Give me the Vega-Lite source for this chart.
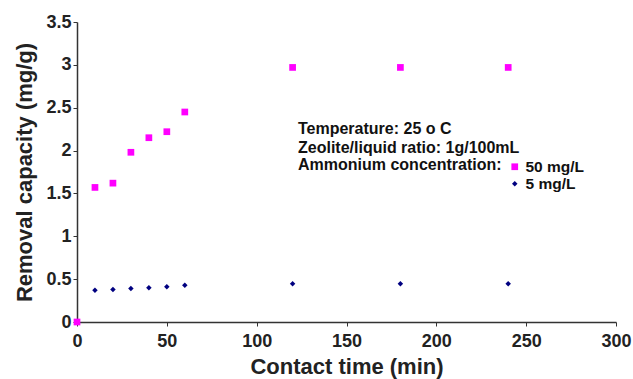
{
  "$schema": "https://vega.github.io/schema/vega-lite/v6.json",
  "width": 539,
  "height": 300,
  "autosize": "none",
  "padding": {"left": 77, "top": 22, "right": 17, "bottom": 57},
  "background": "white",
  "config": {
    "view": {"stroke": null},
    "font": "Liberation Sans",
    "axis": {"grid": false, "domainColor": "#333", "tickColor": "#333", "labelColor": "#222", "titleColor": "#222", "labelFont": "Liberation Sans", "titleFont": "Liberation Sans", "labelFontWeight": "bold", "titleFontWeight": "bold", "labelFontSize": 18, "titleFontSize": 22, "tickSize": 4, "domainWidth": 1.5, "labelFlush": false}
  },
  "datasets": {
    "pts": [
      {"time": 0, "capacity": 0.0, "series": "5 mg/L"},
      {"time": 10, "capacity": 0.37, "series": "5 mg/L"},
      {"time": 20, "capacity": 0.38, "series": "5 mg/L"},
      {"time": 30, "capacity": 0.39, "series": "5 mg/L"},
      {"time": 40, "capacity": 0.40, "series": "5 mg/L"},
      {"time": 50, "capacity": 0.41, "series": "5 mg/L"},
      {"time": 60, "capacity": 0.43, "series": "5 mg/L"},
      {"time": 120, "capacity": 0.445, "series": "5 mg/L"},
      {"time": 180, "capacity": 0.445, "series": "5 mg/L"},
      {"time": 240, "capacity": 0.445, "series": "5 mg/L"},
      {"time": 0, "capacity": 0.0, "series": "50 mg/L"},
      {"time": 10, "capacity": 1.57, "series": "50 mg/L"},
      {"time": 20, "capacity": 1.62, "series": "50 mg/L"},
      {"time": 30, "capacity": 1.98, "series": "50 mg/L"},
      {"time": 40, "capacity": 2.15, "series": "50 mg/L"},
      {"time": 50, "capacity": 2.22, "series": "50 mg/L"},
      {"time": 60, "capacity": 2.45, "series": "50 mg/L"},
      {"time": 120, "capacity": 2.97, "series": "50 mg/L"},
      {"time": 180, "capacity": 2.97, "series": "50 mg/L"},
      {"time": 240, "capacity": 2.97, "series": "50 mg/L"}
    ],
    "notes": [
      {"text": "Temperature: 25 o C", "time": 123, "capacity": 2.256},
      {"text": "Zeolite/liquid ratio: 1g/100mL", "time": 123, "capacity": 2.035},
      {"text": "Ammonium concentration:", "time": 123, "capacity": 1.826}
    ]
  },
  "layer": [
    {
      "data": {"name": "pts"},
      "mark": {"type": "point", "filled": true, "opacity": 1},
      "encoding": {
        "x": {"field": "time", "type": "quantitative", "title": "Contact time (min)", "scale": {"domain": [0, 300]}, "axis": {"values": [0, 50, 100, 150, 200, 250, 300], "labelPadding": 6, "titlePadding": 6}},
        "y": {"field": "capacity", "type": "quantitative", "title": "Removal capacity (mg/g)", "scale": {"domain": [0, 3.5]}, "axis": {"values": [0, 0.5, 1, 1.5, 2, 2.5, 3, 3.5], "format": "~g", "titlePadding": 9}},
        "color": {"field": "series", "type": "nominal", "scale": {"domain": ["50 mg/L", "5 mg/L"], "range": ["#ff00ff", "#000080"]},
          "legend": {"title": null, "orient": "none", "legendX": 430, "legendY": 137, "labelFontSize": 15.5, "labelFontWeight": "bold", "labelColor": "#111", "labelFont": "Liberation Sans", "symbolSize": 45, "rowPadding": 0, "labelOffset": 3}},
        "shape": {"field": "series", "type": "nominal", "scale": {"domain": ["50 mg/L", "5 mg/L"], "range": ["square", "diamond"]}},
        "size": {"field": "series", "type": "nominal", "scale": {"domain": ["50 mg/L", "5 mg/L"], "range": [45, 30]}, "legend": null},
        "order": {"field": "series", "type": "nominal", "sort": "ascending"}
      }
    },
    {
      "data": {"name": "notes"},
      "mark": {"type": "text", "align": "left", "baseline": "middle", "fontSize": 16, "fontWeight": "bold", "color": "#111", "font": "Liberation Sans"},
      "encoding": {
        "x": {"field": "time", "type": "quantitative"},
        "y": {"field": "capacity", "type": "quantitative"},
        "text": {"field": "text"}
      }
    }
  ]
}
